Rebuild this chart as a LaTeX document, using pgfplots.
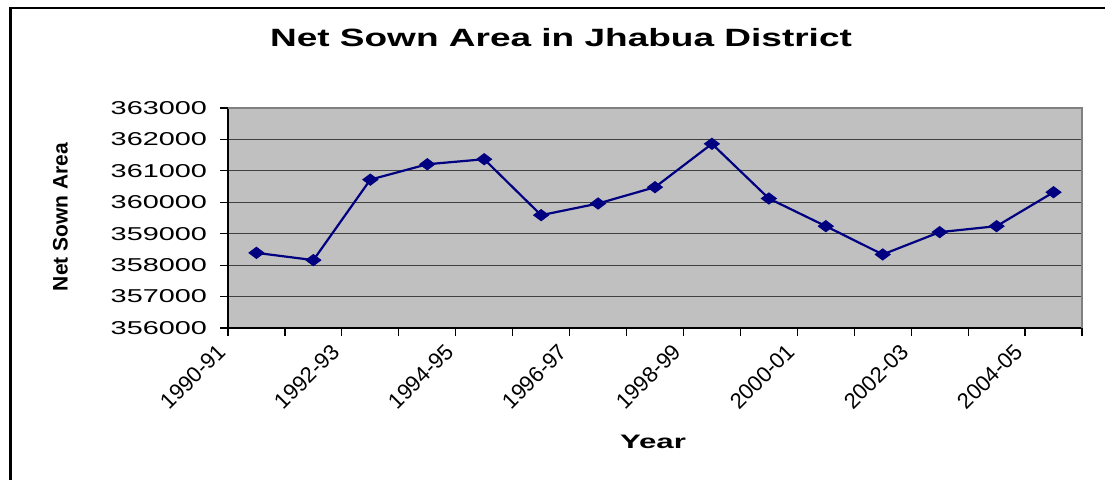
\documentclass[border=0pt]{standalone}
\usepackage{pgfplots}
\pgfplotsset{compat=1.18}
\usepackage{graphicx}
\usepackage{fontspec}
\setmainfont{Liberation Sans}
\definecolor{navy}{HTML}{000080}
\definecolor{plotbg}{HTML}{C0C0C0}
\definecolor{gridc}{HTML}{404040}
\definecolor{edgec}{HTML}{808080}
\newcommand\sy[1]{\scalebox{1.55}[1]{#1}}
\begin{document}
\begin{tikzpicture}
\useasboundingbox (0,0) rectangle (552.5pt,240pt);
\fill[white] (0,0) rectangle (552.5pt,240pt);
\draw[black, line width=1.1pt] (5.25pt,0pt) -- (5.25pt,235.85pt) -- (552.5pt,235.85pt);
\begin{axis}[
  at={(114pt,76pt)}, anchor=south west,
  scale only axis, width=427pt, height=110pt,
  xmin=0.5, xmax=15.5, ymin=356000, ymax=363000,
  axis background/.style={fill=plotbg},
  axis lines*=left,
  axis line style={black, line width=0.6pt},
  xtick={0.5,1.5,...,15.5},
  xticklabels={1990-91,,1992-93,,1994-95,,1996-97,,1998-99,,2000-01,,2002-03,,2004-05,,},
  ytick={356000,357000,...,363000},
  yticklabels={\sy{356000},\sy{357000},\sy{358000},\sy{359000},\sy{360000},\sy{361000},\sy{362000},\sy{363000}},
  scaled y ticks=false,
  ymajorgrids,
  grid style={gridc, line width=0.6pt},
  tick align=outside,
  major tick length=4pt,
  tick style={black, line width=0.6pt},
  yticklabel style={font=\fontsize{9.3pt}{11pt}\selectfont, anchor=east, xshift=-3pt},
  xticklabel style={font=\fontsize{11pt}{12pt}\selectfont, rotate=45, anchor=east, xshift=-3pt, yshift=-2pt},
  after end axis/.code={
    \draw[edgec, line width=1pt] (rel axis cs:0,1) -- (rel axis cs:1,1) -- (rel axis cs:1,0);
  },
]
\addplot[navy, line width=1.1pt, mark=diamond*, mark size=3.7pt, mark options={rotate=90, fill=navy, line width=0.5pt}]
coordinates {
(1,358390) (2,358160) (3,360720) (4,361210) (5,361370) (6,359590) (7,359960) (8,360480)
(9,361860) (10,360120) (11,359240) (12,358340) (13,359050) (14,359240) (15,360320)
};
\end{axis}
\node[font=\fontsize{10.5pt}{12pt}\selectfont\bfseries, rotate=90] at (30.25pt,131.5pt) {Net Sown Area};
\node[font=\fontsize{12.5pt}{14pt}\selectfont\bfseries, xscale=1.48] at (280.5pt,221pt) {Net Sown Area in Jhabua District};
\node[font=\fontsize{9.75pt}{12pt}\selectfont\bfseries, xscale=1.6] at (326.5pt,19pt) {Year};
\end{tikzpicture}
\end{document}
